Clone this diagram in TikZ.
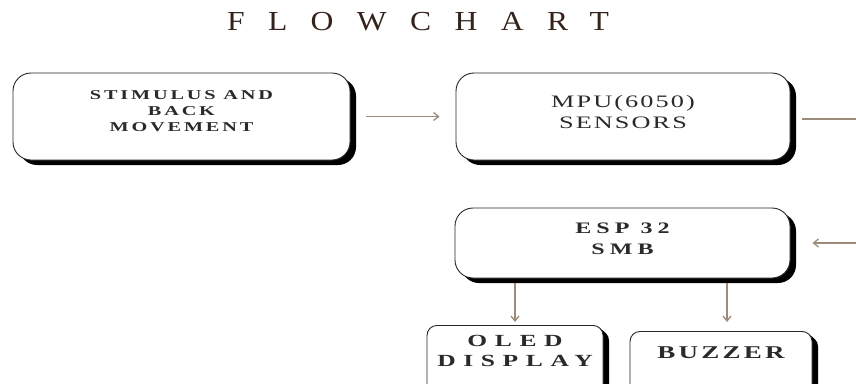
\documentclass[tikz,border=0pt]{standalone}
\usepackage{fontspec}
\setmainfont{Liberation Serif}
\newfontfamily\titlefont[FakeStretch=1.15,LetterSpace=85]{Liberation Serif}
\newfontfamily\boxfont[FakeStretch=1.5]{Liberation Serif}
\usetikzlibrary{positioning,shadows,arrows.meta}

\definecolor{titlebrown}{HTML}{33231B}
\definecolor{arrowtaupe}{HTML}{9C8B79}
\definecolor{boxtext}{HTML}{2A2A2A}

\begin{document}
\begin{tikzpicture}[x=1pt,y=-1pt,
    block/.style={draw=black!85,line width=0.9pt,fill=white,rounded corners=18pt,
        text=boxtext,align=center,
        drop shadow={shadow xshift=6pt,shadow yshift=-5pt,opacity=1,fill=black}},
    smallblock/.style={block,rounded corners=10pt,
        drop shadow={shadow xshift=4pt,shadow yshift=-3pt,opacity=1,fill=black}},
    link/.style={draw=arrowtaupe,line width=1.3pt,-{Straight Barb[length=5pt,width=8pt]}}]
    \useasboundingbox (0,0) rectangle (856,383);
    \clip (0,0) rectangle (856,383);

    \node[text=titlebrown,font=\titlefont\fontsize{27.5}{30}\selectfont] (title) at (418,22) {FLOWCHART};

    % top row
    \node[block,minimum width=337pt,minimum height=87pt,
        font=\boxfont\addfontfeature{LetterSpace=21}\bfseries\fontsize{13.5}{16}\selectfont] (stim) at (181.5,116.5)
        {STIMULUS AND\\BACK\\MOVEMENT\\[-6pt]};
    \node[block,minimum width=334pt,minimum height=87pt,
        font=\boxfont\addfontfeature{LetterSpace=12}\fontsize{17.5}{21}\selectfont] (mpu) at (623,116.5)
        {MPU(6050)\\SENSORS\\[-12pt]};

    % controller
    \node[block,minimum width=335pt,minimum height=70pt,
        font=\boxfont\addfontfeature{LetterSpace=32}\bfseries\fontsize{16}{21}\selectfont] (esp) at (622.5,243)
        {ESP 32\\SMB\\[-12pt]};

    % outputs (cut by the bottom edge)
    \node[smallblock,minimum width=176pt,minimum height=70pt,anchor=north,
        font=\boxfont\addfontfeature{LetterSpace=45}\bfseries\fontsize{17}{20}\selectfont] (oled) at (515,325)
        {OLED\\DISPLAY\\[0pt]};
    \node[smallblock,minimum width=182pt,minimum height=64pt,anchor=north,
        font=\boxfont\addfontfeature{LetterSpace=18}\bfseries\fontsize{18}{20}\selectfont] (buzzer) at (721,331)
        {BUZZER\\[2pt]};

    \coordinate (loop) at (890,180);

    \draw[link,shorten <=16pt,shorten >=16pt] (stim.east) -- (mpu.west);
    \draw[link,shorten <=12pt,shorten >=22pt] ([yshift=-2.5pt]mpu.east) -| (loop) |- (esp.east);
    \draw[link,shorten <=5pt,shorten >=3pt] (oled.north |- esp.south) -- (oled.north);
    \draw[link,shorten <=5pt,shorten >=9pt] ([xshift=6pt]buzzer.north |- esp.south) -- ([xshift=6pt]buzzer.north);
\end{tikzpicture}
\end{document}
